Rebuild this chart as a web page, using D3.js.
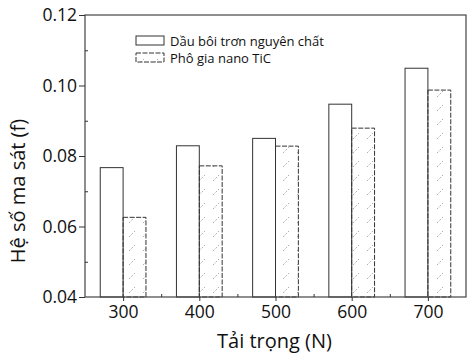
<!DOCTYPE html>
<html>
<head>
<meta charset="utf-8">
<script src="https://cdn.jsdelivr.net/npm/d3@7"></script>
<style>
  body { margin: 0; background: #fff; }
  svg text { font-family: "Open Sans", "Noto Sans", sans-serif; fill: #111; }
</style>
</head>
<body>
<div id="chart"></div>
<script>
// data
const loads = [300, 400, 500, 600, 700];
const baseOil = [0.0767, 0.0829, 0.0850, 0.0947, 0.1049];
const nanoTiC = [0.0626, 0.0772, 0.0828, 0.0879, 0.0987];
const yTicks = [0.04, 0.06, 0.08, 0.10, 0.12];
const seriesNames = ["Dầu bôi trơn nguyên chất", "Phô gia nano TiC"];

const W = 468, H = 358;
const margin = {top: 15, right: 2, bottom: 61, left: 85};
const width = W - margin.left - margin.right;
const height = H - margin.top - margin.bottom;

const svg = d3.select("#chart").append("svg")
    .attr("width", W)
    .attr("height", H);

const defs = svg.append("defs");
const pat = defs.append("pattern")
    .attr("id", "hatch")
    .attr("patternUnits", "userSpaceOnUse")
    .attr("width", 14)
    .attr("height", 14);
pat.append("path")
    .attr("d", "M2,12 L8,6")
    .attr("stroke", "#999")
    .attr("stroke-width", 0.8)
    .attr("stroke-dasharray", "2,1.5");

const g = svg.append("g")
    .attr("transform", "translate(" + margin.left + "," + margin.top + ")");

const x = d3.scaleLinear().domain([250, 750]).range([0, width]);
const y = d3.scaleLinear().domain([0.04, 0.12]).range([height, 0]);
const barW = 30; // in data units

// bars
const rows = loads.map((l, i) => ({load: l, a: baseOil[i], b: nanoTiC[i]}));

g.selectAll(".barA")
  .data(rows)
  .join("rect")
    .attr("class", "barA")
    .attr("x", d => x(d.load - barW))
    .attr("width", d => x(d.load) - x(d.load - barW))
    .attr("y", d => y(d.a))
    .attr("height", d => y(0.04) - y(d.a))
    .attr("fill", "#fff")
    .attr("stroke", "#333")
    .attr("stroke-width", 1);

g.selectAll(".barB")
  .data(rows)
  .join("rect")
    .attr("class", "barB")
    .attr("x", d => x(d.load))
    .attr("width", d => x(d.load + barW) - x(d.load))
    .attr("y", d => y(d.b))
    .attr("height", d => y(0.04) - y(d.b))
    .attr("fill", "url(#hatch)")
    .attr("stroke", "#333")
    .attr("stroke-width", 1)
    .attr("stroke-dasharray", "5,1.5");

// frame
g.append("rect")
    .attr("width", width)
    .attr("height", height)
    .attr("fill", "none")
    .attr("stroke", "#444")
    .attr("stroke-width", 1.2);

// axes
const yAxis = g.append("g")
    .call(d3.axisLeft(y).tickValues(yTicks).tickFormat(d3.format(".2f")).tickSize(6).tickPadding(2));
yAxis.select(".domain").remove();
yAxis.selectAll("text").style("font-size", "17.5px");

const yMinor = g.append("g")
    .call(d3.axisRight(y).tickValues([0.05, 0.07, 0.09, 0.11]).tickSize(3).tickFormat(""));
yMinor.select(".domain").remove();

const xAxis = g.append("g")
    .attr("transform", "translate(0," + height + ")")
    .call(d3.axisBottom(x).tickValues(loads).tickSize(4).tickPadding(5));
xAxis.select(".domain").remove();
xAxis.selectAll("text").style("font-size", "17.5px");

const xMinor = g.append("g")
    .attr("transform", "translate(0," + height + ")")
    .call(d3.axisTop(x).tickValues([350, 450, 550, 650]).tickSize(3).tickFormat(""));
xMinor.select(".domain").remove();

svg.selectAll(".tick line").attr("stroke", "#333");

// axis titles
svg.append("text")
    .attr("x", margin.left + x(500) - 1)
    .attr("y", 348)
    .attr("text-anchor", "middle")
    .style("font-size", "20px")
    .text("Tải trọng (N)");

svg.append("text")
    .attr("transform", "translate(25," + (margin.top + height / 2 + 35) + ") rotate(-90)")
    .attr("text-anchor", "middle")
    .style("font-size", "20px")
    .text("Hệ số ma sát (f)");

// legend
const legend = svg.append("g").attr("transform", "translate(136,36)");
seriesNames.forEach((name, i) => {
  const row = legend.append("g").attr("transform", "translate(0," + i * 17 + ")");
  row.append("rect")
      .attr("width", 28)
      .attr("height", 9)
      .attr("fill", i === 0 ? "#fff" : "url(#hatch)")
      .attr("stroke", "#333")
      .attr("stroke-width", 1)
      .attr("stroke-dasharray", i === 0 ? null : "5,1.5");
  row.append("text")
      .attr("x", 34)
      .attr("y", 9.5)
      .style("font-size", "13px")
      .text(name);
});
</script>
</body>
</html>
